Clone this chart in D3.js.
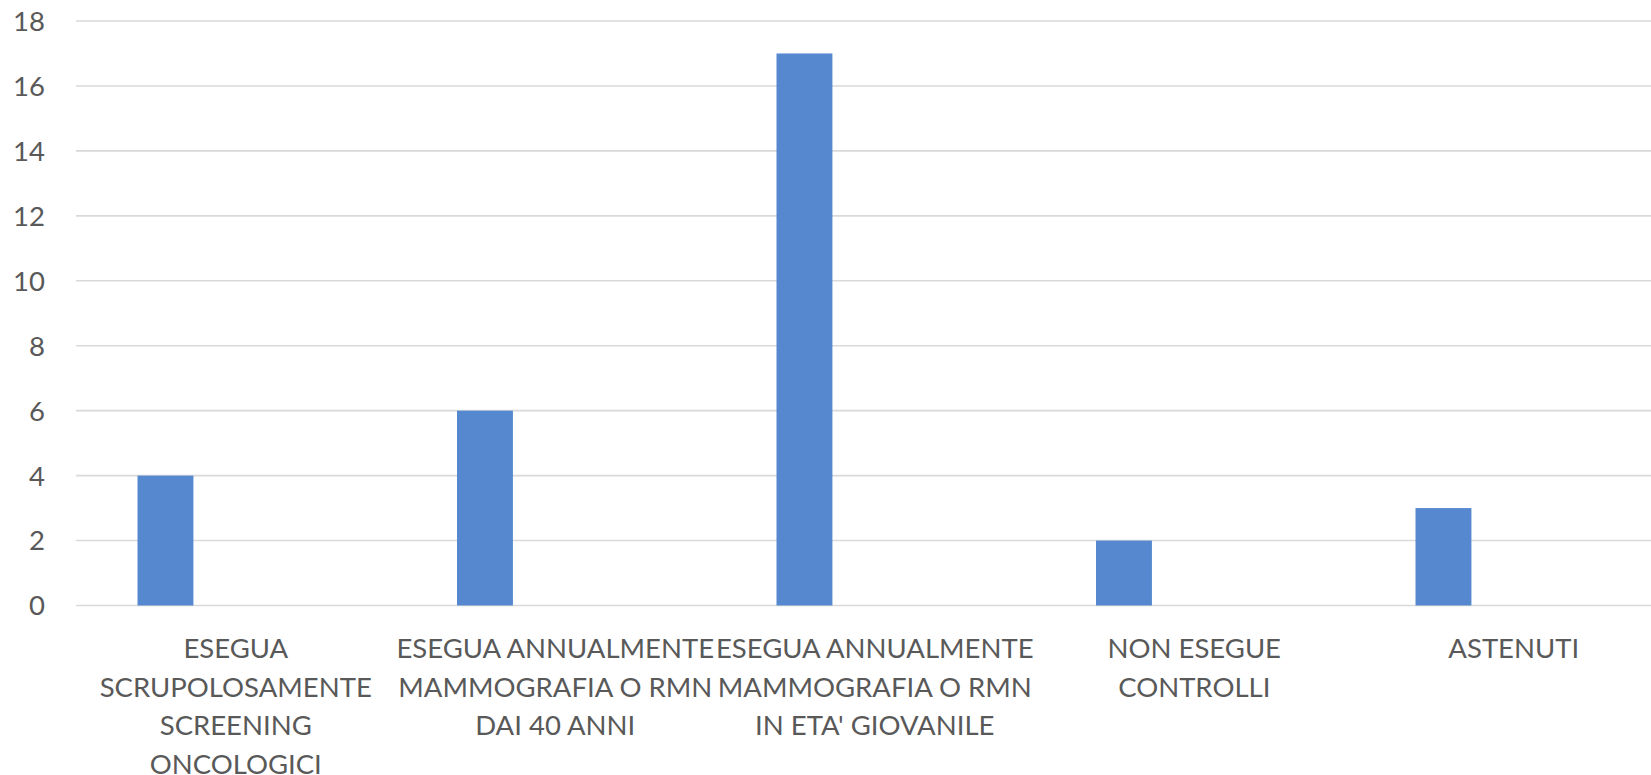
<!DOCTYPE html>
<html>
<head>
<meta charset="utf-8">
<script src="https://cdn.jsdelivr.net/npm/d3@7"></script>
<style>
  html, body { margin: 0; padding: 0; background: #ffffff; }
  svg { display: block; }
  text { font-family: Lato, "Open Sans", sans-serif; fill: #595959; }
</style>
</head>
<body>
<svg id="chart" width="1651" height="775"></svg>
<script>
// ---- data ----
const categories = [
  "ESEGUA SCRUPOLOSAMENTE SCREENING ONCOLOGICI",
  "ESEGUA ANNUALMENTE MAMMOGRAFIA O RMN DAI 40 ANNI",
  "ESEGUA ANNUALMENTE MAMMOGRAFIA O RMN IN ETA' GIOVANILE",
  "NON ESEGUE CONTROLLI",
  "ASTENUTI"
];
const labelLines = [
  ["ESEGUA", "SCRUPOLOSAMENTE", "SCREENING", "ONCOLOGICI"],
  ["ESEGUA ANNUALMENTE", "MAMMOGRAFIA O RMN", "DAI 40 ANNI"],
  ["ESEGUA ANNUALMENTE", "MAMMOGRAFIA O RMN", "IN ETA' GIOVANILE"],
  ["NON ESEGUE", "CONTROLLI"],
  ["ASTENUTI"]
];
const values = [4, 6, 17, 2, 3];
const yTicks = [0, 2, 4, 6, 8, 10, 12, 14, 16, 18];

// ---- layout ----
const svg = d3.select("#chart");
const plotLeft = 76, bandW = 319.5;
const x = d3.scaleBand().domain(categories).range([plotLeft, plotLeft + bandW * categories.length]).padding(0);
const y = d3.scaleLinear().domain([0, 18]).range([605.5, 21]);

// gridlines
svg.append("g").selectAll("line").data(yTicks).join("line")
  .attr("x1", plotLeft).attr("x2", x.range()[1])
  .attr("y1", d => y(d)).attr("y2", d => y(d))
  .attr("stroke", "#d9d9d9").attr("stroke-width", 1.6);

// y tick labels
svg.append("g").selectAll("text").data(yTicks).join("text")
  .attr("x", 45).attr("y", d => y(d))
  .attr("dy", "0.36em")
  .attr("text-anchor", "end")
  .style("font-size", "27.5px")
  .text(d => d);

// bars
const bw = x.bandwidth();
svg.append("g").selectAll("rect").data(values).join("rect")
  .attr("x", (d, i) => x(categories[i]) + bw * 0.1925)
  .attr("width", bw * 0.175)
  .attr("y", d => y(d))
  .attr("height", d => y(0) - y(d))
  .attr("fill", "#5588ce");

// category labels
const lab = svg.append("g").selectAll("text").data(categories).join("text")
  .attr("text-anchor", "middle")
  .style("font-size", "27.5px")
  .attr("transform", d => `translate(${x(d) + bw / 2},658)`);
lab.each(function(d, i) {
  d3.select(this).selectAll("tspan").data(labelLines[i]).join("tspan")
    .attr("x", 0).attr("y", (t, j) => j * 38.7)
    .text(t => t);
});
</script>
</body>
</html>
